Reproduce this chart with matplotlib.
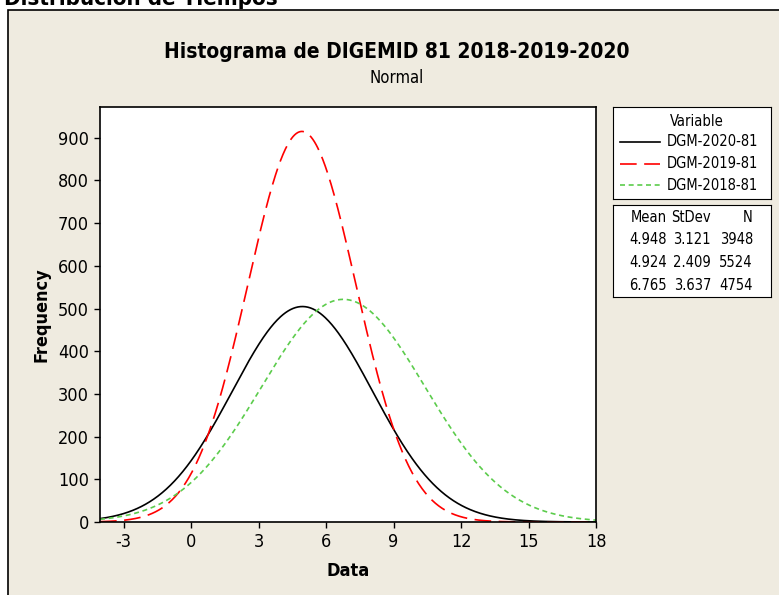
import numpy as np
import matplotlib.pyplot as plt
from matplotlib.patches import Rectangle

# valores de la tabla del gráfico
variables = ["DGM-2020-81", "DGM-2019-81", "DGM-2018-81"]
medias = [4.948, 4.924, 6.765]
desv = [3.121, 2.409, 3.637]
n_obs = [3948, 5524, 4754]
ancho_clase = 1.0

colores = ["black", "#ff0000", "#5ccc4c"]
estilos = ["-", (0, (10, 4.5)), (0, (3, 2.2))]

xticks = [-3, 0, 3, 6, 9, 12, 15, 18]
yticks = [0, 100, 200, 300, 400, 500, 600, 700, 800, 900]

plt.rcParams["font.family"] = ["DejaVu Sans"]
plt.rcParams["font.stretch"] = "condensed"
plt.rcParams["axes.unicode_minus"] = False

W, H = 779, 595
fig = plt.figure(figsize=(W / 100, H / 100), dpi=100, facecolor="white")
beige = "#efebe0"

# marco de fondo
fig.patches.append(Rectangle((8 / W, -0.02), 1.0, 1 - 10 / H + 0.02, transform=fig.transFigure,
                             facecolor=beige, edgecolor="black", linewidth=1.2, zorder=-10))
fig.text(0.005, 1 - 5 / H, "Distribución de Tiempos", fontsize=16, fontweight="bold",
         ha="left", va="baseline")

ax = fig.add_axes([100 / W, 1 - 522 / H, 496 / W, 415 / H])
ax.set_facecolor("white")

x = np.linspace(-4.05, 18, 600)
for nombre, m, s, n, c, ls in zip(variables, medias, desv, n_obs, colores, estilos):
    y = n * ancho_clase * np.exp(-0.5 * ((x - m) / s) ** 2) / (s * np.sqrt(2 * np.pi))
    ax.plot(x, y, color=c, linestyle=ls, linewidth=1.2)

ax.set_xlim(-4.05, 18)
ax.set_ylim(0, 972)
ax.set_xticks(xticks)
ax.set_yticks(yticks)
ax.tick_params(direction="out", length=4, width=1, labelsize=13, pad=4)
for sp in ax.spines.values():
    sp.set_linewidth(1.2)
ax.set_xlabel("Data", fontsize=13, fontweight="bold", labelpad=8)
ax.set_ylabel("Frequency", fontsize=13, fontweight="bold", labelpad=5)

fig.text(397 / W, 1 - 52 / H, "Histograma de DIGEMID 81 2018-2019-2020", fontsize=15,
         fontweight="bold", ha="center", va="center")
fig.text(397 / W, 1 - 78 / H, "Normal", fontsize=12, ha="center", va="center")

# leyenda
leg = fig.add_axes([613 / W, 1 - 199 / H, 158 / W, 92 / H])
leg.set_facecolor("white")
leg.set_xlim(613, 771)
leg.set_ylim(199, 107)
leg.set_xticks([])
leg.set_yticks([])
leg.text(697, 121, "Variable", fontsize=10.5, ha="center", va="center")
for i, (nombre, c, ls) in enumerate(zip(variables, colores, estilos)):
    yy = 142 + i * 21.5
    leg.plot([620, 660], [yy, yy], color=c, linestyle=ls, linewidth=1.2)
    leg.text(667, yy, nombre, fontsize=10.5, ha="left", va="center")

# tabla de estadísticos
tab = fig.add_axes([613 / W, 1 - 297 / H, 158 / W, 92 / H])
tab.set_facecolor("white")
tab.set_xlim(613, 771)
tab.set_ylim(297, 205)
tab.set_xticks([])
tab.set_yticks([])
cols = [667, 711, 753]
for cx, h in zip(cols, ["Mean", "StDev", "N"]):
    tab.text(cx, 218, h, fontsize=10.5, ha="right", va="center")
for i in range(3):
    yy = 240 + i * 22.5
    fila = [f"{medias[i]:.3f}", f"{desv[i]:.3f}", f"{n_obs[i]}"]
    for cx, v in zip(cols, fila):
        tab.text(cx, yy, v, fontsize=10.5, ha="right", va="center")

fig.savefig("out.png", dpi=100, facecolor=fig.get_facecolor())
